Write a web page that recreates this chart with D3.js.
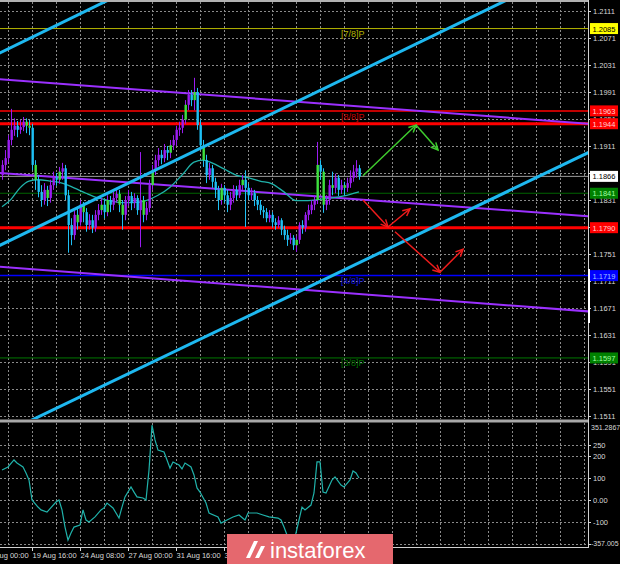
<!DOCTYPE html>
<html><head><meta charset="utf-8">
<script src="https://cdn.jsdelivr.net/npm/d3@7"></script>
<style>body{margin:0;background:#000}svg{display:block}text{font-family:"Liberation Sans",Arial,sans-serif}</style>
</head><body><svg id="c" width="620" height="564"></svg>
<script>
// ---------- DATA ----------
const opens = [1.1868,1.1883,1.1893,1.1920,1.1935,1.1941,1.1935,1.1939,1.1947,1.1941,
1.1938,1.1883,1.1861,1.1843,1.1831,1.1846,1.1834,1.1853,1.1864,1.1861,
1.1873,1.1878,1.1838,1.1794,1.1779,1.1809,1.1798,1.1824,1.1813,1.1794,
1.1801,1.1790,1.1809,1.1816,1.1824,1.1813,1.1831,1.1824,1.1834,1.1840,
1.1824,1.1809,1.1831,1.1837,1.1827,1.1834,1.1816,1.1831,1.1809,1.1819,
1.1853,1.1875,1.1890,1.1898,1.1893,1.1905,1.1901,1.1912,1.1920,1.1935,
1.1938,1.1950,1.1972,1.1987,1.1979,1.1991,1.1942,1.1912,1.1890,1.1868,
1.1878,1.1858,1.1846,1.1831,1.1849,1.1838,1.1824,1.1834,1.1846,1.1838,
1.1853,1.1861,1.1849,1.1838,1.1841,1.1831,1.1824,1.1816,1.1813,1.1804,
1.1809,1.1798,1.1794,1.1801,1.1787,1.1779,1.1772,1.1775,1.1764,1.1772,
1.1794,1.1790,1.1809,1.1816,1.1824,1.1831,1.1883,1.1873,1.1824,1.1831,
1.1853,1.1849,1.1864,1.1846,1.1853,1.1849,1.1856,1.1864,1.1873,1.1878];
const highs = [1.1890,1.1905,1.1927,1.1966,1.1952,1.1948,1.1950,1.1954,1.1952,1.1950,
1.1944,1.1890,1.1868,1.1853,1.1856,1.1852,1.1861,1.1873,1.1871,1.1880,
1.1886,1.1883,1.1846,1.1804,1.1816,1.1819,1.1831,1.1828,1.1819,1.1810,
1.1809,1.1816,1.1825,1.1834,1.1831,1.1838,1.1837,1.1843,1.1849,1.1846,
1.1831,1.1837,1.1846,1.1843,1.1841,1.1838,1.1902,1.1837,1.1828,1.1861,
1.1883,1.1898,1.1908,1.1905,1.1914,1.1911,1.1920,1.1927,1.1941,1.1947,
1.1957,1.1979,1.1994,1.1994,1.2012,1.1997,1.1950,1.1920,1.1898,1.1886,
1.1883,1.1864,1.1852,1.1855,1.1853,1.1846,1.1843,1.1853,1.1852,1.1861,
1.1868,1.1875,1.1855,1.1849,1.1846,1.1837,1.1831,1.1822,1.1819,1.1816,
1.1813,1.1804,1.1807,1.1804,1.1793,1.1787,1.1782,1.1779,1.1778,1.1798,
1.1801,1.1813,1.1824,1.1831,1.1838,1.1917,1.1890,1.1878,1.1838,1.1861,
1.1873,1.1870,1.1868,1.1861,1.1858,1.1864,1.1875,1.1883,1.1890,1.1883];
const lows = [1.1861,1.1875,1.1887,1.1912,1.1926,1.1924,1.1929,1.1933,1.1930,1.1927,
1.1875,1.1846,1.1835,1.1821,1.1824,1.1822,1.1827,1.1846,1.1852,1.1855,
1.1861,1.1831,1.1753,1.1764,1.1772,1.1787,1.1793,1.1798,1.1784,1.1787,
1.1782,1.1784,1.1801,1.1809,1.1804,1.1807,1.1813,1.1816,1.1827,1.1813,
1.1787,1.1801,1.1822,1.1816,1.1819,1.1809,1.1761,1.1798,1.1801,1.1813,
1.1846,1.1868,1.1881,1.1884,1.1887,1.1890,1.1893,1.1905,1.1911,1.1926,
1.1930,1.1944,1.1964,1.1970,1.1964,1.1935,1.1905,1.1880,1.1856,1.1861,
1.1849,1.1834,1.1816,1.1824,1.1827,1.1813,1.1816,1.1827,1.1831,1.1834,
1.1846,1.1791,1.1831,1.1831,1.1822,1.1816,1.1809,1.1804,1.1798,1.1798,
1.1790,1.1787,1.1790,1.1779,1.1772,1.1763,1.1766,1.1757,1.1754,1.1766,
1.1781,1.1784,1.1801,1.1810,1.1816,1.1825,1.1861,1.1812,1.1816,1.1824,
1.1838,1.1841,1.1837,1.1840,1.1838,1.1843,1.1849,1.1858,1.1864,1.1861];
const closes = [1.1883,1.1893,1.1920,1.1935,1.1941,1.1935,1.1939,1.1947,1.1941,1.1938,
1.1883,1.1861,1.1843,1.1831,1.1846,1.1834,1.1853,1.1864,1.1861,1.1873,
1.1878,1.1838,1.1794,1.1779,1.1809,1.1798,1.1824,1.1813,1.1794,1.1801,
1.1790,1.1809,1.1816,1.1824,1.1813,1.1831,1.1824,1.1834,1.1840,1.1824,
1.1809,1.1831,1.1837,1.1827,1.1834,1.1816,1.1831,1.1809,1.1819,1.1853,
1.1875,1.1890,1.1898,1.1893,1.1905,1.1901,1.1912,1.1920,1.1935,1.1938,
1.1950,1.1972,1.1987,1.1979,1.1991,1.1942,1.1912,1.1890,1.1868,1.1878,
1.1858,1.1846,1.1831,1.1849,1.1838,1.1824,1.1834,1.1846,1.1838,1.1853,
1.1861,1.1849,1.1838,1.1841,1.1831,1.1824,1.1816,1.1813,1.1804,1.1809,
1.1798,1.1794,1.1801,1.1787,1.1779,1.1772,1.1775,1.1764,1.1772,1.1794,
1.1790,1.1809,1.1816,1.1824,1.1831,1.1883,1.1873,1.1824,1.1831,1.1853,
1.1849,1.1864,1.1846,1.1853,1.1849,1.1856,1.1864,1.1873,1.1878,1.1866];
const greenBars = [8,9,11,15,19,25,27,33,35,39,40,47,50,56,61,64,67,73,80,98,105,107,110,114];

const maIdx = [0,3,6,9,12,16,20,24,28,32,36,40,44,48,52,56,60,64,67,70,74,78,82,86,90,94,98,102,106,110,114,119];
const maVal = [1.1821,1.1832,1.1849,1.1859,1.1861,1.1859,1.1856,1.1849,1.1841,1.1834,1.1830,1.1827,1.1827,1.1830,1.1838,1.1850,1.1868,1.1887,1.1890,1.1886,1.1877,1.1868,1.1864,1.1859,1.1855,1.1843,1.1830,1.1830,1.1832,1.1834,1.1837,1.1843];

const cciIdx = [0,2,4,5,7,8,9,10,12,13,15,18,19,20,21,22,23,24,26,27,28,29,31,33,34,35,37,39,40,41,43,44,45,47,48,49,50,51,52,54,55,56,57,59,60,61,63,64,65,66,68,69,72,73,75,77,79,81,82,85,87,89,92,93,94,95,97,98,100,101,103,104,105,106,107,108,110,111,113,114,116,117,118,119];
const cciVal = [136,150,182,168,150,123,91,0,-32,-45,-55,-9,0,-45,-123,-182,-150,-123,-114,-45,-91,-100,-77,-45,-36,-14,-36,-82,-32,14,59,36,14,9,0,136,340,273,227,218,182,145,173,159,141,168,150,114,55,36,-14,-59,-77,-105,-91,-77,-68,-91,-59,-59,-68,-77,-82,-91,-123,-159,-205,-150,-32,-45,-23,32,173,173,36,32,91,105,68,59,91,132,123,100];

const priceTicks = [1.2111,1.2071,1.2031,1.1991,1.1951,1.1911,1.1871,1.1831,1.1791,1.1751,1.1711,1.1671,1.1631,1.1591,1.1551,1.1511];
const cciTicks = [250,200,100,0,-100,-200];
const cciTickLabels = ["250","200","100","0.00","-100",""];
const cciMaxLabel = "351.2867", cciMinLabel = "-357.005";
const dateIdx = [-6,10,26,42,58,74];
const dateLabels = ["17 Aug 00:00","19 Aug 16:00","24 Aug 08:00","27 Aug 00:00","31 Aug 16:00","3 Sep 08:00"];

const levelPrices = [1.2085,1.1963,1.1944,1.1866,1.1841,1.1790,1.1719,1.1597];
const levelColors = ["#b4b400","#c00000","#ff0000","#9a9a9a","#006400","#ff0000","#0000ff","#007800"];
const levelWidths = [1,2,3,1,1,3,1.5,1];
const boxFill = ["#ffff00","#ff0000","#ff0000","#ffffff","#008000","#ff0000","#0000ff","#008000"];
const boxText = ["#000000","#ffd0d0","#ffd0d0","#000000","#a0ffa0","#ffd0d0","#a0c0ff","#a0ffa0"];

const levelTextPrices = [1.2085,1.1944,1.1719,1.1597];
const levelTexts = ["[7/8]P","[8/8]P","[4/8]P","[3/8]P"];
const levelTextColors = ["#b4b400","#c80000","#1010e0","#007000"];
const levelTextBelow = [true,false,true,true];

// trend lines: two anchors (bar index, price)
const blueLines = [[[-0.67,1.2049],[35.33,1.2127]],[[-0.67,1.1764],[99.33,1.1979]],[[13.67,1.1513],[195.33,1.1901]]];
const purpleLines = [[[-0.67,1.2010],[195.33,1.1944]],[[-0.67,1.1871],[195.33,1.1807]],[[-0.67,1.1732],[195.33,1.1666]]];
const greenArrow = [[120.33,1.1867],[138,1.1942],[145.33,1.1905]];
const redArrow1 = [[120.33,1.1831],[128.67,1.1791],[136,1.1818]];
const redArrow2 = [[131,1.1784],[146,1.1724],[153.67,1.1758]];

// ---------- DRAW ----------
const svg = d3.select("#c");
svg.append("rect").attr("width",620).attr("height",564).attr("fill","#000");
const PR = 588;
const x = d3.scaleLinear().domain([0,1]).range([2,5]);
const y = d3.scaleLinear().domain([1.1511,1.2111]).range([416,11]);
const yc = d3.scaleLinear().domain([-200,250]).range([544,445]);

const defs = svg.append("defs");
defs.append("clipPath").attr("id","cm").append("rect").attr("x",0).attr("y",2).attr("width",PR).attr("height",417);
defs.append("clipPath").attr("id","cs").append("rect").attr("x",0).attr("y",423).attr("width",PR).attr("height",124);

const gridColor = "#8a8a8a";
const gm = svg.append("g").attr("clip-path","url(#cm)");
const vGrid = d3.range(2,200,8);
gm.selectAll(".hg").data(priceTicks).join("line")
  .attr("x1",0).attr("x2",PR).attr("y1",d=>Math.round(y(d))+0.5).attr("y2",d=>Math.round(y(d))+0.5)
  .attr("stroke",gridColor).attr("stroke-dasharray","2,2");
gm.selectAll(".vg").data(vGrid).join("line")
  .attr("x1",d=>Math.round(x(d))+0.5).attr("x2",d=>Math.round(x(d))+0.5).attr("y1",2).attr("y2",420)
  .attr("stroke",gridColor).attr("stroke-dasharray","2,2");
const gs = svg.append("g").attr("clip-path","url(#cs)");
gs.selectAll(".hg").data(cciTicks).join("line")
  .attr("x1",0).attr("x2",PR).attr("y1",d=>Math.round(yc(d))+0.5).attr("y2",d=>Math.round(yc(d))+0.5)
  .attr("stroke",gridColor).attr("stroke-dasharray","2,2");
gs.selectAll(".vg").data(vGrid).join("line")
  .attr("x1",d=>Math.round(x(d))+0.5).attr("x2",d=>Math.round(x(d))+0.5).attr("y1",423).attr("y2",547)
  .attr("stroke",gridColor).attr("stroke-dasharray","2,2");

// level lines
gm.selectAll(".lv").data(levelPrices).join("line")
  .attr("x1",0).attr("x2",PR).attr("y1",d=>y(d)).attr("y2",d=>y(d))
  .attr("stroke",(d,i)=>levelColors[i]).attr("stroke-width",(d,i)=>levelWidths[i]);

// level texts
gm.selectAll(".lt").data(levelTexts).join("text")
  .attr("x",x(113)).attr("y",(d,i)=>y(levelTextPrices[i]) + (levelTextBelow[i]?8:-4))
  .attr("fill",(d,i)=>levelTextColors[i]).attr("font-size",9).text(d=>d);

function lineThrough(a,b){
  const x1=x(a[0]),y1=y(a[1]),x2=x(b[0]),y2=y(b[1]);
  const s=(y2-y1)/(x2-x1);
  return {x1:-10,y1:y1+s*(-10-x1),x2:PR+10,y2:y1+s*(PR+10-x1)};
}
gm.selectAll(".pl").data(purpleLines).join("line")
  .each(function(d){const l=lineThrough(d[0],d[1]);d3.select(this).attr("x1",l.x1).attr("y1",l.y1).attr("x2",l.x2).attr("y2",l.y2);})
  .attr("stroke","#9b30ff").attr("stroke-width",2);

// MA
gm.append("path").datum(maIdx.map((d,i)=>[d,maVal[i]]))
  .attr("d",d3.line().x(d=>x(d[0])).y(d=>y(d[1])).curve(d3.curveMonotoneX))
  .attr("fill","none").attr("stroke","#20b2aa").attr("stroke-width",1.3);

// candles
const bars = closes.map((c,i)=>({i,o:opens[i],h:highs[i],l:lows[i],c}));
const cg = gm.append("g");
cg.selectAll(".wk").data(bars).join("line")
  .attr("x1",d=>x(d.i)+0.5).attr("x2",d=>x(d.i)+0.5).attr("y1",d=>y(d.h)).attr("y2",d=>y(d.l))
  .attr("stroke",d=>d.c>=d.o?"#9a1cf0":"#1ec0f5").attr("stroke-width",1);
cg.selectAll(".bd").data(bars).join("rect")
  .attr("x",d=>x(d.i)-0.5).attr("width",2.4)
  .attr("y",d=>y(Math.max(d.o,d.c))).attr("height",d=>Math.max(1,Math.abs(y(d.o)-y(d.c))))
  .attr("fill",d=>greenBars.includes(d.i)?"#3ee03e":(d.c>=d.o?"#9a1cf0":"#1ec0f5"));

// blue channel lines
gm.selectAll(".bl").data(blueLines).join("line")
  .each(function(d){const l=lineThrough(d[0],d[1]);d3.select(this).attr("x1",l.x1).attr("y1",l.y1).attr("x2",l.x2).attr("y2",l.y2);})
  .attr("stroke","#1eb8f0").attr("stroke-width",3);

// arrows
function drawArrow(pts,color){
  const g = gm.append("g");
  for(let k=0;k<pts.length-1;k++){
    const x1=x(pts[k][0]),y1=y(pts[k][1]),x2=x(pts[k+1][0]),y2=y(pts[k+1][1]);
    g.append("line").attr("x1",x1).attr("y1",y1).attr("x2",x2).attr("y2",y2).attr("stroke",color).attr("stroke-width",1.5);
    const a=Math.atan2(y2-y1,x2-x1), L=8, w=0.45;
    const p1=[x2-L*Math.cos(a-w),y2-L*Math.sin(a-w)], p2=[x2-L*Math.cos(a+w),y2-L*Math.sin(a+w)];
    g.append("path").attr("d",`M${p1[0]},${p1[1]}L${x2},${y2}L${p2[0]},${p2[1]}`).attr("fill","none").attr("stroke",color).attr("stroke-width",1.5);
  }
}
drawArrow(greenArrow,"#3ecc2e");
drawArrow(redArrow1,"#ee1c1c");
drawArrow(redArrow2,"#ee1c1c");

// CCI
gs.append("path").datum(cciIdx.map((d,i)=>[d,cciVal[i]]))
  .attr("d",d3.line().x(d=>x(d[0])).y(d=>yc(d[1])))
  .attr("fill","none").attr("stroke","#20b2aa").attr("stroke-width",1.2);

// frame
svg.append("line").attr("x1",0).attr("x2",PR).attr("y1",1).attr("y2",1).attr("stroke","#b0b0b0").attr("stroke-width",2);
svg.append("line").attr("x1",PR+0.5).attr("x2",PR+0.5).attr("y1",0).attr("y2",548).attr("stroke","#d0d0d0");
svg.append("line").attr("x1",0).attr("x2",PR).attr("y1",421).attr("y2",421).attr("stroke","#a8a8a8").attr("stroke-width",3);
svg.append("line").attr("x1",0).attr("x2",PR).attr("y1",547.5).attr("y2",547.5).attr("stroke","#d0d0d0");

// axes
const axisColor = "#d8d8d8";
function styleAxis(g){
  g.select(".domain").remove();
  g.selectAll("line").attr("stroke",axisColor);
  g.selectAll("text").attr("fill",axisColor).attr("font-size",7.5).attr("font-family","Liberation Sans, Arial, sans-serif");
}
svg.append("g").attr("transform",`translate(${PR},0)`)
  .call(d3.axisRight(y).tickValues(priceTicks).tickFormat(d3.format(".4f")).tickSize(3).tickPadding(2))
  .call(styleAxis);
svg.append("g").attr("transform",`translate(${PR},0)`)
  .call(d3.axisRight(yc).tickValues(cciTicks).tickFormat((d,i)=>cciTickLabels[i]).tickSize(3).tickPadding(2))
  .call(styleAxis);
svg.append("text").attr("x",591).attr("y",430).attr("fill",axisColor).attr("font-size",7).text(cciMaxLabel);
svg.append("text").attr("x",591).attr("y",546).attr("fill",axisColor).attr("font-size",7).text(cciMinLabel);
svg.append("g").attr("transform","translate(0,548)")
  .call(d3.axisBottom(x).tickValues(dateIdx).tickFormat((d,i)=>dateLabels[i]).tickSize(3).tickPadding(2))
  .call(styleAxis)
  .call(g=>g.selectAll("text").attr("text-anchor","start"));

// level boxes on price axis
const lb = svg.append("g");
lb.selectAll("rect").data(levelPrices).join("rect")
  .attr("x",590).attr("y",d=>y(d)-5.5).attr("width",28).attr("height",11)
  .attr("fill",(d,i)=>boxFill[i]);
lb.selectAll("text").data(levelPrices).join("text")
  .attr("x",604).attr("y",d=>y(d)+3).attr("text-anchor","middle")
  .attr("font-size",7.5).attr("fill",(d,i)=>boxText[i]).text(d=>d3.format(".4f")(d));

// scroll marker
svg.append("rect").attr("x",588).attr("y",269).attr("width",2).attr("height",54).attr("fill","#ffffff");

// logo
const logo = svg.append("g");
logo.append("rect").attr("x",227).attr("y",534).attr("width",166).attr("height",30).attr("fill","#e5686e");
logo.append("path").attr("d","M246,558 L254,541 L258,541 L250,558 Z M255,558 L261,546 L265,546 L259,558 Z").attr("fill","#ffffff");
logo.append("text").attr("x",270).attr("y",558).attr("fill","#ffffff").attr("font-size",22)
  .attr("font-family","'Open Sans', Lato, sans-serif").attr("font-weight",300).text("instaforex");
</script></body></html>
